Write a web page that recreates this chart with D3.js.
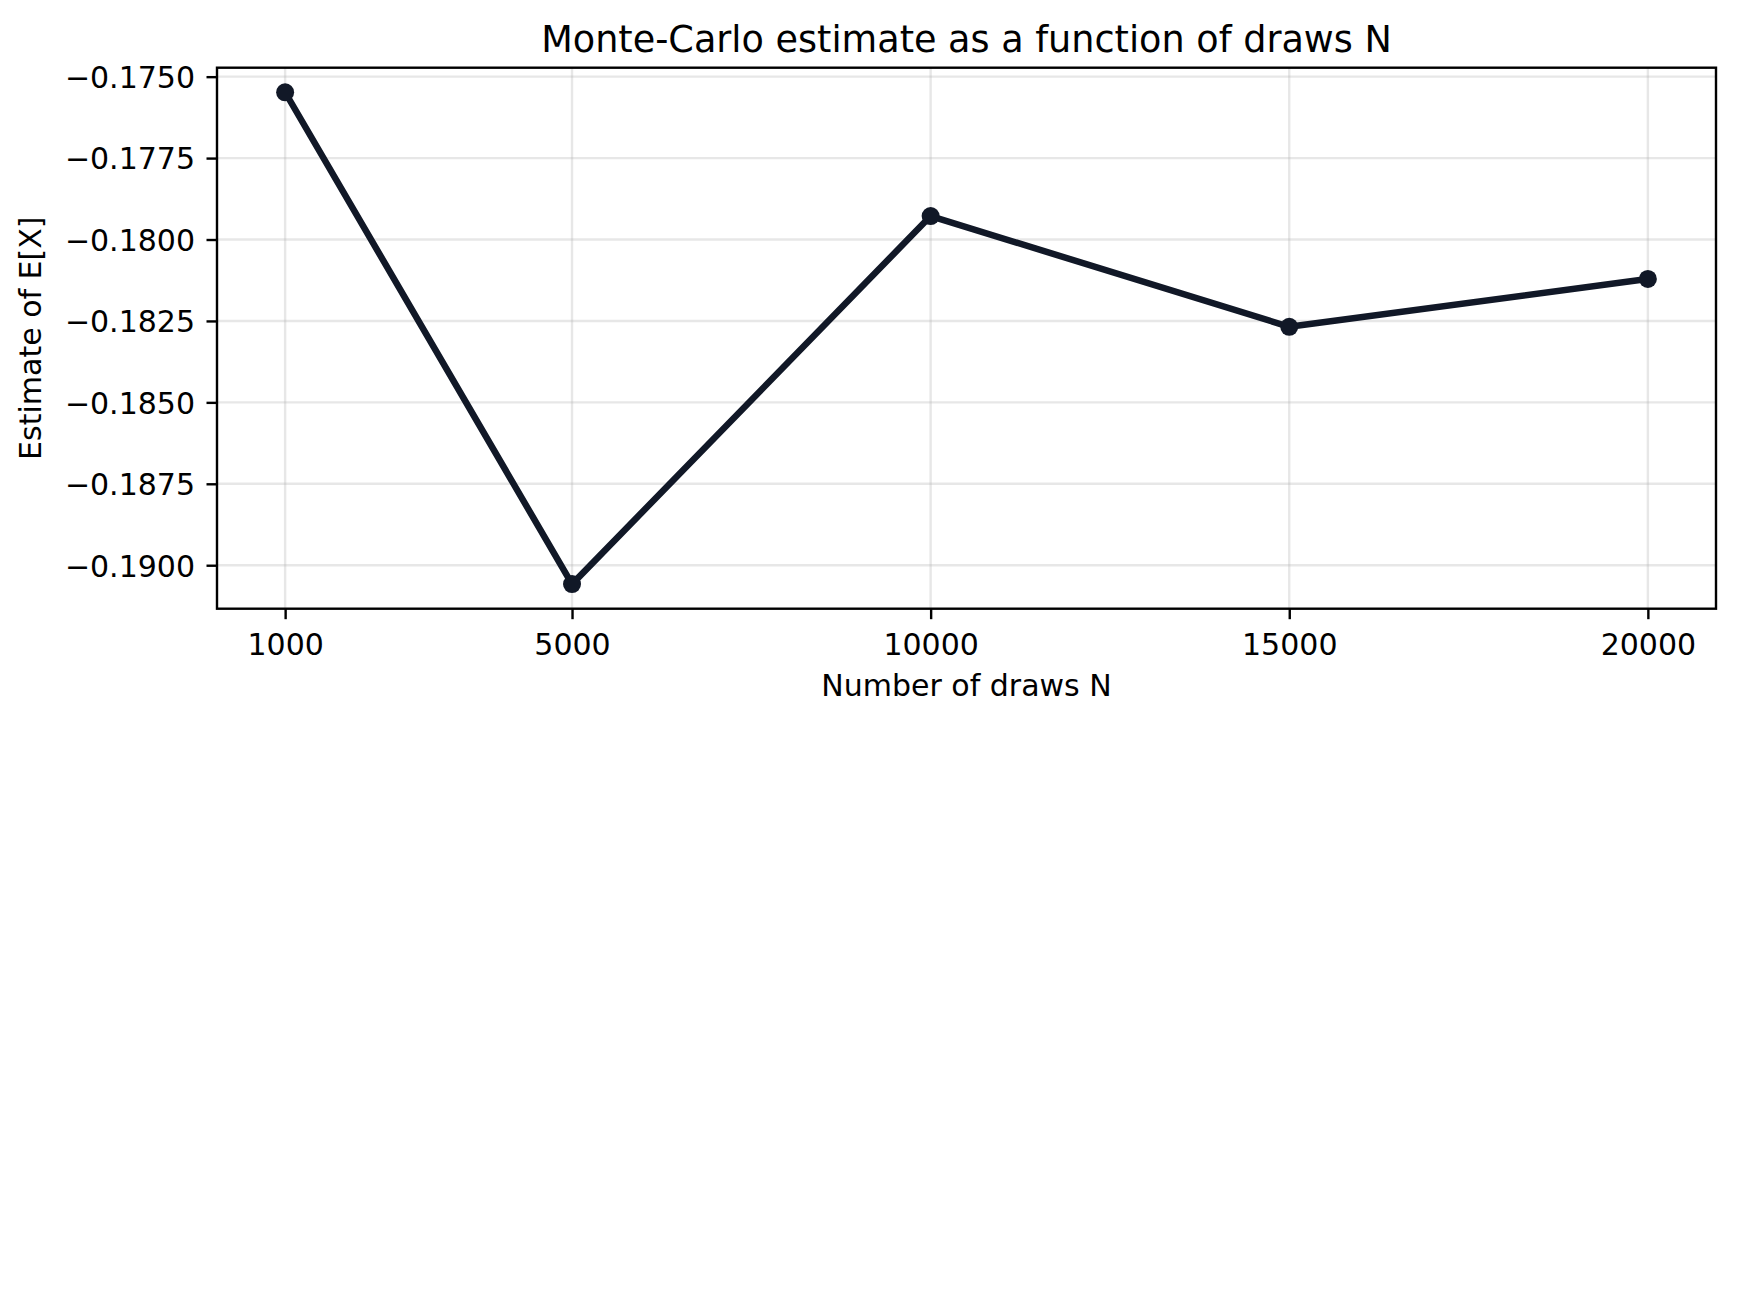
<!DOCTYPE html>
<html>
<head>
<meta charset="utf-8">
<script src="https://cdn.jsdelivr.net/npm/d3@7"></script>
<style>
  body { margin: 0; background: #fff; }
  text { font-family: "DejaVu Sans", sans-serif; fill: #000; }
</style>
</head>
<body>
<svg id="chart" width="1738" height="1297"></svg>
<script>
// data
const draws = [1000, 5000, 10000, 15000, 20000];
const estimates = [-0.17548, -0.19058, -0.17928, -0.18268, -0.18121];
const xTicks = [1000, 5000, 10000, 15000, 20000];
const yTicks = [-0.175, -0.1775, -0.18, -0.1825, -0.185, -0.1875, -0.19];

const title = "Monte-Carlo estimate as a function of draws N";
const xLabel = "Number of draws N";
const yLabel = "Estimate of E[X]";

const width = 1738;
const height = 1297;
const margin = { top: 67.7, right: 22, bottom: 688.3, left: 217 };
const chartWidth = width - margin.left - margin.right;
const chartHeight = height - margin.top - margin.bottom;
const ink = "#111827";

const svg = d3.select("#chart");
svg.append("rect").attr("width", width).attr("height", height).attr("fill", "#fff");

// matplotlib-style 5% padding around data
const pad = (lo, hi) => [lo - (hi - lo) * 0.05, hi + (hi - lo) * 0.05];
const [x0, x1] = pad(d3.min(draws), d3.max(draws));
const [y0, y1] = pad(d3.min(estimates), d3.max(estimates));

const xScale = d3.scaleLinear().domain([x0, x1]).range([0, chartWidth]);
const yScale = d3.scaleLinear().domain([y0, y1]).range([chartHeight, 0]);

const g = svg.append("g").attr("transform", `translate(${margin.left},${margin.top})`);

// grid
g.append("g")
  .selectAll("line.gx")
  .data(xTicks)
  .enter()
  .append("line")
  .attr("x1", d => xScale(d)).attr("x2", d => xScale(d))
  .attr("y1", 0).attr("y2", chartHeight)
  .attr("stroke", "#b0b0b0").attr("stroke-opacity", 0.3).attr("stroke-width", 2.4);

g.append("g")
  .selectAll("line.gy")
  .data(yTicks)
  .enter()
  .append("line")
  .attr("x1", 0).attr("x2", chartWidth)
  .attr("y1", d => yScale(d)).attr("y2", d => yScale(d))
  .attr("stroke", "#b0b0b0").attr("stroke-opacity", 0.3).attr("stroke-width", 2.4);

// line + markers
const line = d3.line()
  .x((d, i) => xScale(draws[i]))
  .y(d => yScale(d));

g.append("path")
  .datum(estimates)
  .attr("d", line)
  .attr("fill", "none")
  .attr("stroke", ink)
  .attr("stroke-width", 6.5)
  .attr("stroke-linejoin", "round")
  .attr("stroke-linecap", "square");

g.selectAll("circle")
  .data(estimates)
  .enter()
  .append("circle")
  .attr("cx", (d, i) => xScale(draws[i]))
  .attr("cy", d => yScale(d))
  .attr("r", 9)
  .attr("fill", ink);

// axes
const xAxis = g.append("g")
  .attr("transform", `translate(0, ${chartHeight})`)
  .call(d3.axisBottom(xScale).tickValues(xTicks).tickFormat(d3.format("d")).tickSize(10.5).tickSizeOuter(0));

const yAxis = g.append("g")
  .call(d3.axisLeft(yScale).tickValues(yTicks).tickFormat(d3.format(".4f")).tickSize(10.5).tickSizeOuter(0));

[xAxis, yAxis].forEach(a => {
  a.select(".domain").remove();
  a.selectAll(".tick line").attr("stroke", "#000").attr("stroke-width", 2.4);
  a.selectAll(".tick text").attr("font-size", "30px").attr("font-family", "DejaVu Sans").attr("fill", "#000");
});
xAxis.selectAll(".tick text").attr("y", 46.3).attr("dy", null);
yAxis.selectAll(".tick text").attr("x", -22).attr("dy", "0.36em");

// frame
g.append("rect")
  .attr("width", chartWidth)
  .attr("height", chartHeight)
  .attr("fill", "none")
  .attr("stroke", "#000")
  .attr("stroke-width", 2.4);

// labels
svg.append("text")
  .attr("x", margin.left + chartWidth / 2)
  .attr("y", 51.7)
  .attr("text-anchor", "middle")
  .attr("font-size", "36.6px")
  .text(title);

svg.append("text")
  .attr("x", margin.left + chartWidth / 2)
  .attr("y", 696)
  .attr("text-anchor", "middle")
  .attr("font-size", "30px")
  .text(xLabel);

svg.append("text")
  .attr("transform", `translate(41, ${margin.top + chartHeight / 2}) rotate(-90)`)
  .attr("text-anchor", "middle")
  .attr("font-size", "30px")
  .text(yLabel);
</script>
</body>
</html>
